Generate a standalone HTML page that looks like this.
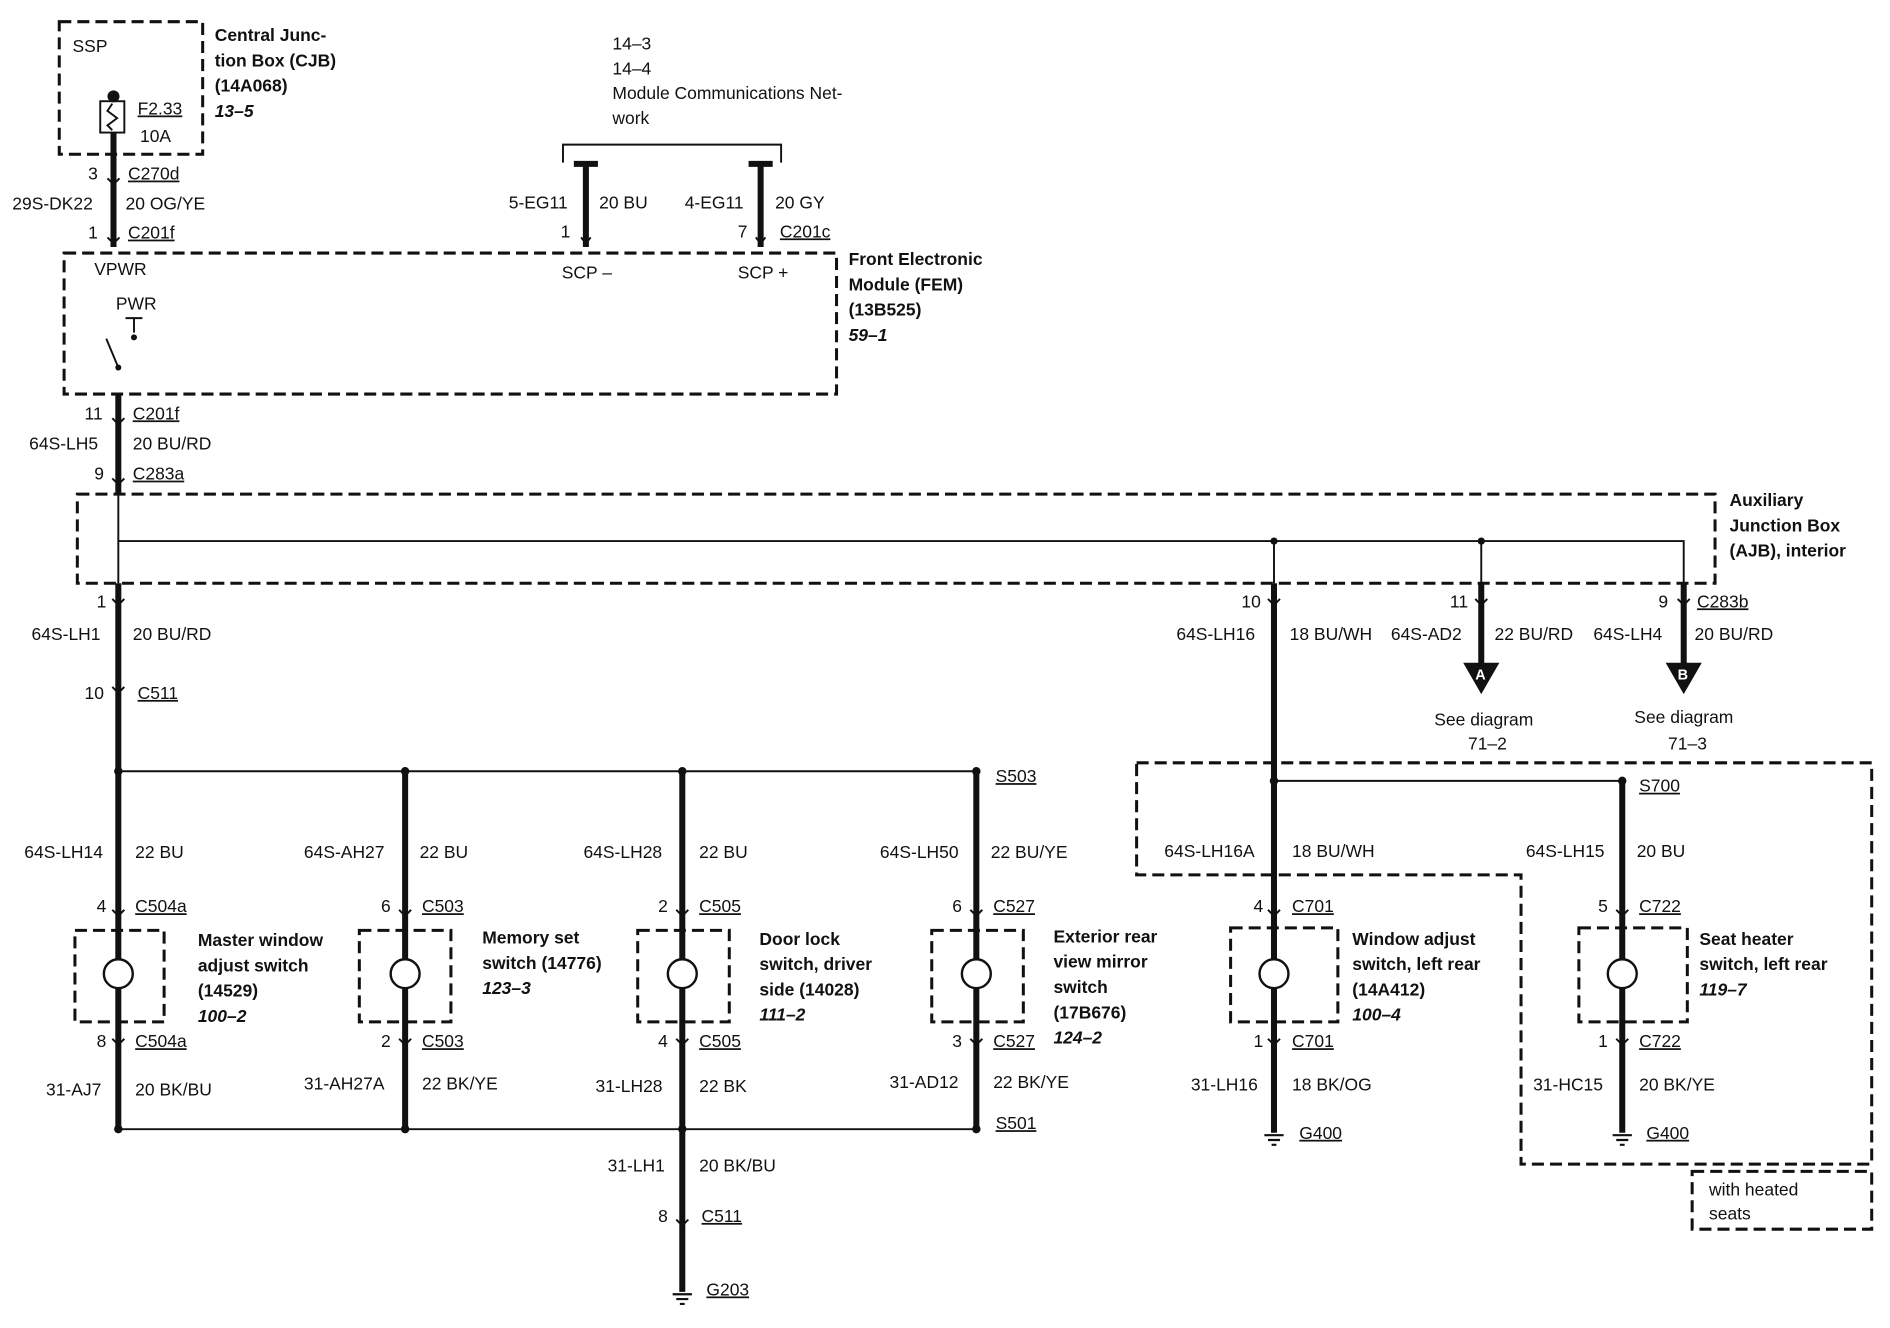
<!DOCTYPE html>
<html><head><meta charset="utf-8"><style>
html,body{margin:0;padding:0;background:#fff;}
svg{display:block;}
text{font-family:"Liberation Sans",Arial,sans-serif;font-size:14.5px;fill:#111;}
.b{font-weight:bold;}
.i{font-weight:bold;font-style:italic;}
.u{text-decoration:underline;}
</style></head><body>
<svg width="1890" height="1328" viewBox="0 0 1568 1102" xmlns="http://www.w3.org/2000/svg">
<g fill="none" stroke="#111">
<!-- dashed boxes -->
<g stroke-width="2.5" stroke-dasharray="10,5">
<rect x="49" y="18" width="119" height="110"/>
<rect x="53" y="210" width="641" height="117"/>
<rect x="64" y="410" width="1359" height="74"/>
<rect x="62" y="772" width="74" height="76"/>
<rect x="298" y="772" width="76" height="76"/>
<rect x="529" y="772" width="76" height="76"/>
<rect x="773" y="772" width="76" height="76"/>
<rect x="1021" y="770" width="89" height="78"/>
<rect x="1310" y="770" width="90" height="78"/>
<polyline points="943,633 1553,633 1553,966 1262,966 1262,726 943,726 943,633"/>
<rect x="1404" y="972" width="149" height="48"/>
</g>
<!-- thick wires -->
<g stroke-width="5">
<line x1="94" y1="110" x2="94" y2="205"/>
<line x1="486" y1="135" x2="486" y2="205"/>
<line x1="631" y1="135" x2="631" y2="205"/>
<line x1="98" y1="327" x2="98" y2="410"/>
<line x1="98" y1="484" x2="98" y2="640"/>
<line x1="98" y1="640" x2="98" y2="796"/><line x1="98" y1="820" x2="98" y2="937"/>
<line x1="336" y1="640" x2="336" y2="796"/><line x1="336" y1="820" x2="336" y2="937"/>
<line x1="566" y1="640" x2="566" y2="796"/><line x1="566" y1="820" x2="566" y2="1072"/>
<line x1="810" y1="640" x2="810" y2="796"/><line x1="810" y1="820" x2="810" y2="937"/>
<line x1="1057" y1="484" x2="1057" y2="796"/><line x1="1057" y1="820" x2="1057" y2="940"/>
<line x1="1346" y1="648" x2="1346" y2="796"/><line x1="1346" y1="820" x2="1346" y2="940"/>
<line x1="1229" y1="484" x2="1229" y2="552"/>
<line x1="1397" y1="484" x2="1397" y2="552"/>
<line x1="476" y1="136" x2="496" y2="136"/>
<line x1="621" y1="136" x2="641" y2="136"/>
</g>
<!-- thin lines -->
<g stroke-width="1.6">
<polyline points="467,135 467,120 648,120 648,135"/>
<line x1="98" y1="410" x2="98" y2="484"/>
<polyline points="98,449 1397,449 1397,484"/>
<line x1="1057" y1="449" x2="1057" y2="484"/>
<line x1="1229" y1="449" x2="1229" y2="484"/>
<line x1="98" y1="640" x2="810" y2="640"/>
<line x1="98" y1="937" x2="810" y2="937"/>
<line x1="1057" y1="648" x2="1346" y2="648"/>
<line x1="98" y1="305" x2="88" y2="281"/>
<line x1="104" y1="264" x2="118" y2="264"/><line x1="111" y1="264" x2="111" y2="276"/>
<rect x="83" y="84" width="20" height="26"/>
<path d="M93,86 l-4,6 l8,6 l-8,6 l4,4"/>
</g>
<!-- switch circles -->
<g stroke-width="2">
<circle cx="98" cy="808" r="12"/><circle cx="336" cy="808" r="12"/><circle cx="566" cy="808" r="12"/><circle cx="810" cy="808" r="12"/><circle cx="1057" cy="808" r="12"/><circle cx="1346" cy="808" r="12"/>
</g>
<!-- connector chevrons -->
<g stroke-width="1.6">
<path d="M89,148 l5,5 l5,-5 M89,197 l5,5 l5,-5 M482,197 l4,5 l4,-5 M627,197 l4,5 l4,-5 M93,347 l5,5 l5,-5 M93,397 l5,5 l5,-5 M93,497 l5,5 l5,-5 M93,570 l5,5 l5,-5 M93,755 l5,5 l5,-5 M331,755 l5,5 l5,-5 M561,755 l5,5 l5,-5 M805,755 l5,5 l5,-5 M1052,755 l5,5 l5,-5 M1341,755 l5,5 l5,-5 M93,862 l5,5 l5,-5 M331,862 l5,5 l5,-5 M561,862 l5,5 l5,-5 M805,862 l5,5 l5,-5 M1052,862 l5,5 l5,-5 M1341,862 l5,5 l5,-5 M561,1012 l5,5 l5,-5 M1052,497 l5,5 l5,-5 M1224,497 l5,5 l5,-5 M1392,497 l5,5 l5,-5"/>
</g>
<!-- grounds -->
<g stroke-width="1.8">
<path d="M558,1074 h16 M561,1078 h10 M564,1082 h4"/>
<path d="M1049,942 h16 M1052,946 h10 M1055,950 h4"/>
<path d="M1338,942 h16 M1341,946 h10 M1344,950 h4"/>
</g>
</g>
<!-- dots -->
<g fill="#111">
<circle cx="94" cy="80" r="5"/>
<circle cx="98" cy="305" r="2.5"/><circle cx="111" cy="280" r="2.5"/>
<circle cx="1057" cy="449" r="3"/><circle cx="1229" cy="449" r="3"/>
<circle cx="98" cy="640" r="3.5"/><circle cx="336" cy="640" r="3.5"/><circle cx="566" cy="640" r="3.5"/><circle cx="810" cy="640" r="3.5"/>
<circle cx="98" cy="937" r="3.5"/><circle cx="336" cy="937" r="3.5"/><circle cx="566" cy="937" r="3.5"/><circle cx="810" cy="937" r="3.5"/>
<circle cx="1057" cy="648" r="3.5"/><circle cx="1346" cy="648" r="3.5"/>
<polygon points="1214,550 1244,550 1229,576"/>
<polygon points="1382,550 1412,550 1397,576"/>
</g>
<text x="1224" y="564" style="fill:#fff;font-size:12px" class="b">A</text>
<text x="1392" y="564" style="fill:#fff;font-size:12px" class="b">B</text>
<!-- text -->
<text x="60" y="43">SSP</text>
<text x="114" y="95" class="u">F2.33</text><text x="116" y="118">10A</text>
<text x="178" y="34" class="b">Central Junc-</text><text x="178" y="55" class="b">tion Box (CJB)</text><text x="178" y="76" class="b">(14A068)</text><text x="178" y="97" class="i">13–5</text>
<text x="73" y="149">3</text><text x="106" y="149" class="u">C270d</text>
<text x="10" y="174">29S-DK22</text><text x="104" y="174">20 OG/YE</text>
<text x="73" y="198">1</text><text x="106" y="198" class="u">C201f</text>
<text x="508" y="41">14–3</text><text x="508" y="62">14–4</text><text x="508" y="82">Module Communications Net-</text><text x="508" y="103">work</text>
<text x="422" y="173">5-EG11</text><text x="497" y="173">20 BU</text><text x="465" y="197">1</text>
<text x="568" y="173">4-EG11</text><text x="643" y="173">20 GY</text><text x="612" y="197">7</text><text x="647" y="197" class="u">C201c</text>
<text x="78" y="228">VPWR</text><text x="466" y="231">SCP –</text><text x="612" y="231">SCP +</text>
<text x="96" y="257">PWR</text>
<text x="704" y="220" class="b">Front Electronic</text><text x="704" y="241" class="b">Module (FEM)</text><text x="704" y="262" class="b">(13B525)</text><text x="704" y="283" class="i">59–1</text>
<text x="70" y="348">11</text><text x="110" y="348" class="u">C201f</text>
<text x="24" y="373">64S-LH5</text><text x="110" y="373">20 BU/RD</text>
<text x="78" y="398">9</text><text x="110" y="398" class="u">C283a</text>
<text x="1435" y="420" class="b">Auxiliary</text><text x="1435" y="441" class="b">Junction Box</text><text x="1435" y="462" class="b">(AJB), interior</text>
<text x="80" y="504">1</text><text x="26" y="531">64S-LH1</text><text x="110" y="531">20 BU/RD</text>
<text x="70" y="580">10</text><text x="114" y="580" class="u">C511</text>
<text x="1030" y="504">10</text><text x="976" y="531">64S-LH16</text><text x="1070" y="531">18 BU/WH</text>
<text x="1203" y="504">11</text><text x="1154" y="531">64S-AD2</text><text x="1240" y="531">22 BU/RD</text>
<text x="1376" y="504">9</text><text x="1408" y="504" class="u">C283b</text><text x="1322" y="531">64S-LH4</text><text x="1406" y="531">20 BU/RD</text>
<text x="1190" y="602">See diagram</text><text x="1218" y="622">71–2</text>
<text x="1356" y="600">See diagram</text><text x="1384" y="622">71–3</text>
<text x="826" y="649" class="u">S503</text><text x="1360" y="657" class="u">S700</text>
<text x="20" y="712">64S-LH14</text><text x="112" y="712">22 BU</text>
<text x="252" y="712">64S-AH27</text><text x="348" y="712">22 BU</text>
<text x="484" y="712">64S-LH28</text><text x="580" y="712">22 BU</text>
<text x="730" y="712">64S-LH50</text><text x="822" y="712">22 BU/YE</text>
<text x="966" y="711">64S-LH16A</text><text x="1072" y="711">18 BU/WH</text>
<text x="1266" y="711">64S-LH15</text><text x="1358" y="711">20 BU</text>
<text x="80" y="757">4</text><text x="112" y="757" class="u">C504a</text>
<text x="316" y="757">6</text><text x="350" y="757" class="u">C503</text>
<text x="546" y="757">2</text><text x="580" y="757" class="u">C505</text>
<text x="790" y="757">6</text><text x="824" y="757" class="u">C527</text>
<text x="1040" y="757">4</text><text x="1072" y="757" class="u">C701</text>
<text x="1326" y="757">5</text><text x="1360" y="757" class="u">C722</text>
<text x="164" y="785" class="b">Master window</text><text x="164" y="806" class="b">adjust switch</text><text x="164" y="827" class="b">(14529)</text><text x="164" y="848" class="i">100–2</text>
<text x="400" y="783" class="b">Memory set</text><text x="400" y="804" class="b">switch (14776)</text><text x="400" y="825" class="i">123–3</text>
<text x="630" y="784" class="b">Door lock</text><text x="630" y="805" class="b">switch, driver</text><text x="630" y="826" class="b">side (14028)</text><text x="630" y="847" class="i">111–2</text>
<text x="874" y="782" class="b">Exterior rear</text><text x="874" y="803" class="b">view mirror</text><text x="874" y="824" class="b">switch</text><text x="874" y="845" class="b">(17B676)</text><text x="874" y="866" class="i">124–2</text>
<text x="1122" y="784" class="b">Window adjust</text><text x="1122" y="805" class="b">switch, left rear</text><text x="1122" y="826" class="b">(14A412)</text><text x="1122" y="847" class="i">100–4</text>
<text x="1410" y="784" class="b">Seat heater</text><text x="1410" y="805" class="b">switch, left rear</text><text x="1410" y="826" class="i">119–7</text>
<text x="80" y="869">8</text><text x="112" y="869" class="u">C504a</text>
<text x="316" y="869">2</text><text x="350" y="869" class="u">C503</text>
<text x="546" y="869">4</text><text x="580" y="869" class="u">C505</text>
<text x="790" y="869">3</text><text x="824" y="869" class="u">C527</text>
<text x="1040" y="869">1</text><text x="1072" y="869" class="u">C701</text>
<text x="1326" y="869">1</text><text x="1360" y="869" class="u">C722</text>
<text x="38" y="909">31-AJ7</text><text x="112" y="909">20 BK/BU</text>
<text x="252" y="904">31-AH27A</text><text x="350" y="904">22 BK/YE</text>
<text x="494" y="906">31-LH28</text><text x="580" y="906">22 BK</text>
<text x="738" y="903">31-AD12</text><text x="824" y="903">22 BK/YE</text>
<text x="988" y="905">31-LH16</text><text x="1072" y="905">18 BK/OG</text>
<text x="1272" y="905">31-HC15</text><text x="1360" y="905">20 BK/YE</text>
<text x="826" y="937" class="u">S501</text>
<text x="1078" y="945" class="u">G400</text><text x="1366" y="945" class="u">G400</text>
<text x="1418" y="992">with heated</text><text x="1418" y="1012">seats</text>
<text x="504" y="972">31-LH1</text><text x="580" y="972">20 BK/BU</text>
<text x="546" y="1014">8</text><text x="582" y="1014" class="u">C511</text>
<text x="586" y="1075" class="u">G203</text>
</svg>
</body></html>
